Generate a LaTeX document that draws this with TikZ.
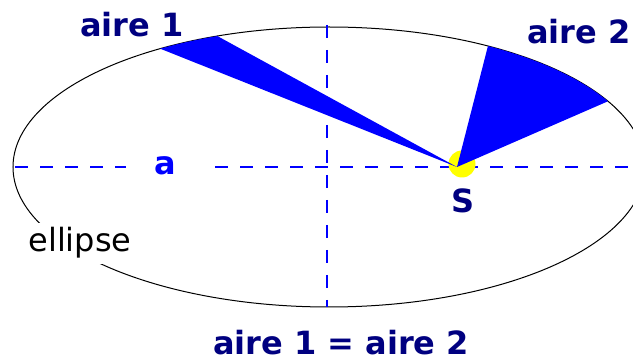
\documentclass[tikz,border=0pt]{standalone}
\usepackage{fontspec}
\setmainfont{DejaVu Sans}
\definecolor{navy}{HTML}{000080}
\definecolor{pureblue}{HTML}{0000FF}
\definecolor{sunyellow}{HTML}{FFFF00}
\begin{document}
\begin{tikzpicture}[x=1pt,y=1pt,
  orbit/.style={draw=black, line width=1pt},
  axisline/.style={draw=pureblue, line width=1.4pt, dash pattern=on 13pt off 12pt},
  sector/.style={fill=pureblue},
  big/.style={font=\fontsize{32}{38}\selectfont\bfseries, inner sep=0pt, anchor=base},
  lbl/.style={big, text=navy},
]
\useasboundingbox (0,0) rectangle (633,362);
\clip (0,0) rectangle (633,362);
\fill[white] (0,0) rectangle (633,362);
\coordinate (O) at (329,195);
\draw[orbit] (O) ellipse [x radius=316pt, y radius=140pt];
% axes
\coordinate (hl) at (15,195);
\coordinate (hr) at (633,195);
\coordinate (vt) at (327,337);
\coordinate (vb) at (327,55);
\draw[axisline] (hl) -- (hr);
\draw[axisline] (vt) -- (vb);
% sun
\node[circle, fill=sunyellow, minimum size=27pt, inner sep=0pt] (sun) at (462,198) {};
\coordinate (S) at (457,195);
% sectors
\fill[sector] (S) -- ([shift={(O)}]122.3:316pt and 140pt)
  arc[start angle=122.3, end angle=110.7, x radius=316pt, y radius=140pt] -- cycle;
\fill[sector] (S) -- ([shift={(O)}]59.8:316pt and 140pt)
  arc[start angle=59.8, end angle=28.0, x radius=316pt, y radius=140pt] -- cycle;
% labels
\node[lbl] (a1) at (132,325) {aire 1};
\node[lbl, anchor=base east] (a2) at (631,318) {aire 2};
\node[lbl] (sl) at (463,149) {S};
\node[lbl] (eq) at (341,7) {aire 1 = aire 2};
\node[big, text=pureblue, fill=white, inner xsep=28pt, inner ysep=2pt] (al) at (165,187) {a};
\node[font=\fontsize{32}{38}\selectfont, anchor=base, fill=white, inner sep=5pt] (el) at (80,110) {ellipse};
\end{tikzpicture}
\end{document}
